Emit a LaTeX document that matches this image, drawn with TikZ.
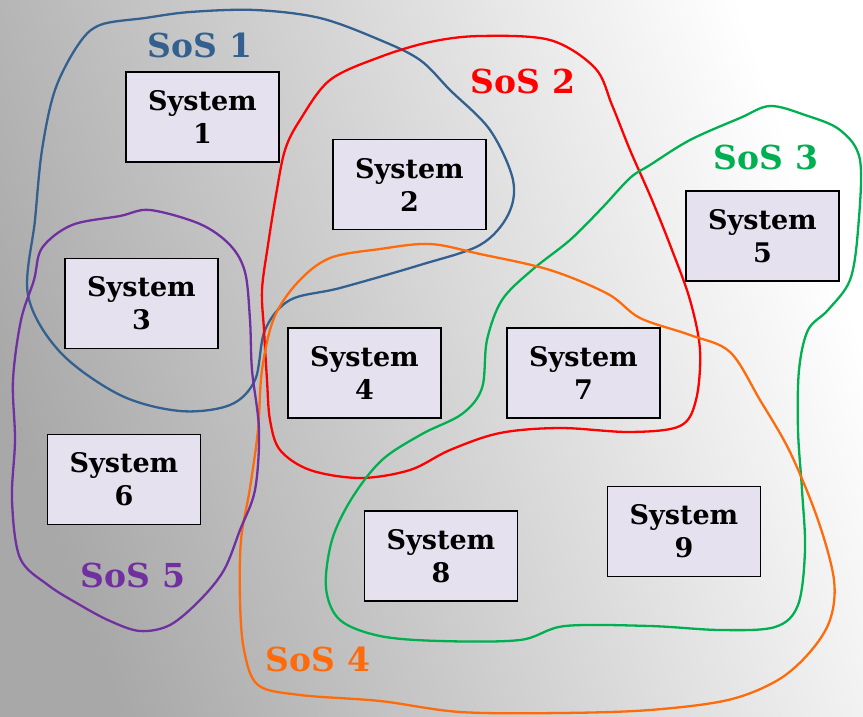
\documentclass[tikz,border=0pt]{standalone}
\usepackage{fontspec}
\setmainfont{DejaVu Serif}
\usepackage{tikz}
\usetikzlibrary{positioning}
\definecolor{sosblue}{HTML}{34608F}
\definecolor{sosred}{HTML}{FF0000}
\definecolor{sosgreen}{HTML}{00B050}
\definecolor{sosorange}{HTML}{FF6A0A}
\definecolor{sospurple}{HTML}{7030A0}
\definecolor{boxfill}{HTML}{E6E1EE}
\tikzset{sys/.style={rectangle,draw=black,line width=1.6pt,fill=boxfill,minimum width=153pt,minimum height=90pt,align=center,font=\bfseries\fontsize{27}{33}\selectfont,inner sep=0pt},
         soslab/.style={font=\bfseries\fontsize{33}{36}\selectfont},
         blob/.style={line width=2.3pt,line join=round}}

\begin{document}
\begin{tikzpicture}[x=1pt,y=-1pt]
    \useasboundingbox (0,0) rectangle (863,716);
    \shade[top color=white,bottom color=black!34,shading angle=-70] (0,0) rectangle (863,716);

    % SoS 1
    \draw[blob,sosblue] plot[smooth cycle,tension=0.55] coordinates {(100,25) (145,18) (190,12) (255,10) (320,18) (380,40) (420,60) (450,90) (490,130) (513,180) (508,215) (480,245) (420,265) (340,288) (290,300) (265,330) (255,380) (230,405) (180,411) (120,395) (60,352) (28,295) (35,220) (42,150) (55,90) (78,45)};
    % SoS 2
    \draw[blob,sosred] plot[smooth cycle,tension=0.55] coordinates {(300,120) (330,80) (380,57) (430,42) (480,36) (550,40) (595,68) (612,105) (630,150) (652,200) (672,250) (690,300) (700,350) (696,400) (680,426) (630,432) (560,428) (500,433) (450,450) (410,470) (360,478) (310,470) (280,450) (270,420) (267,380) (264,330) (262,290) (268,245) (276,195) (285,150)};
    % SoS 3
    \draw[blob,sosgreen] plot[smooth cycle,tension=0.55] coordinates {(650,165) (690,140) (740,118) (770,106) (805,115) (840,130) (860,160) (858,230) (850,280) (828,310) (808,330) (799,370) (798,430) (802,490) (805,550) (798,605) (775,627) (720,630) (650,626) (565,626) (520,640) (440,641) (380,636) (340,620) (326,588) (332,540) (352,498) (382,460) (422,434) (462,414) (482,388) (487,340) (502,300) (532,270) (570,240) (602,208) (630,178)};
    % SoS 4
    \draw[blob,sosorange] plot[smooth cycle,tension=0.55] coordinates {(330,258) (380,249) (430,244) (480,254) (550,270) (608,294) (640,318) (690,335) (730,352) (760,400) (790,452) (818,520) (834,580) (830,620) (810,652) (778,680) (728,700) (650,710) (560,713) (460,712) (380,701) (300,695) (258,685) (244,650) (240,600) (241,540) (250,488) (258,430) (262,370) (274,318) (298,282)};
    % SoS 5
    \draw[blob,sospurple] plot[smooth cycle,tension=0.55] coordinates {(42,248) (72,225) (120,216) (150,210) (200,224) (230,245) (245,272) (250,320) (252,370) (259,430) (255,490) (240,530) (224,570) (200,600) (170,625) (140,631) (110,621) (80,605) (48,585) (20,558) (12,500) (15,440) (13,380) (21,320) (34,280)};

    \node[sys] (s1) at (202.5,117) {System\\1};
    \node[sys] (s2) at (409.5,184.5) {System\\2};
    \node[sys] (s5) at (762.5,236) {System\\5};
    \node[sys] (s3) at (141.5,303.5) {System\\3};
    \node[sys] (s4) at (364.5,373) {System\\4};
    \node[sys] (s7) at (583.5,373) {System\\7};
    \node[sys] (s6) at (124,479.5) {System\\6};
    \node[sys] (s9) at (684,531.5) {System\\9};
    \node[sys] (s8) at (441,556) {System\\8};

    \node[soslab,text=sosblue] (l1) at (200,45) {SoS 1};
    \node[soslab,text=sosred] (l2) at (523,81) {SoS 2};
    \node[soslab,text=sosgreen] (l3) at (766,157) {SoS 3};
    \node[soslab,text=sosorange] (l4) at (318,659) {SoS 4};
    \node[soslab,text=sospurple] (l5) at (133,575) {SoS 5};
\end{tikzpicture}
\end{document}
